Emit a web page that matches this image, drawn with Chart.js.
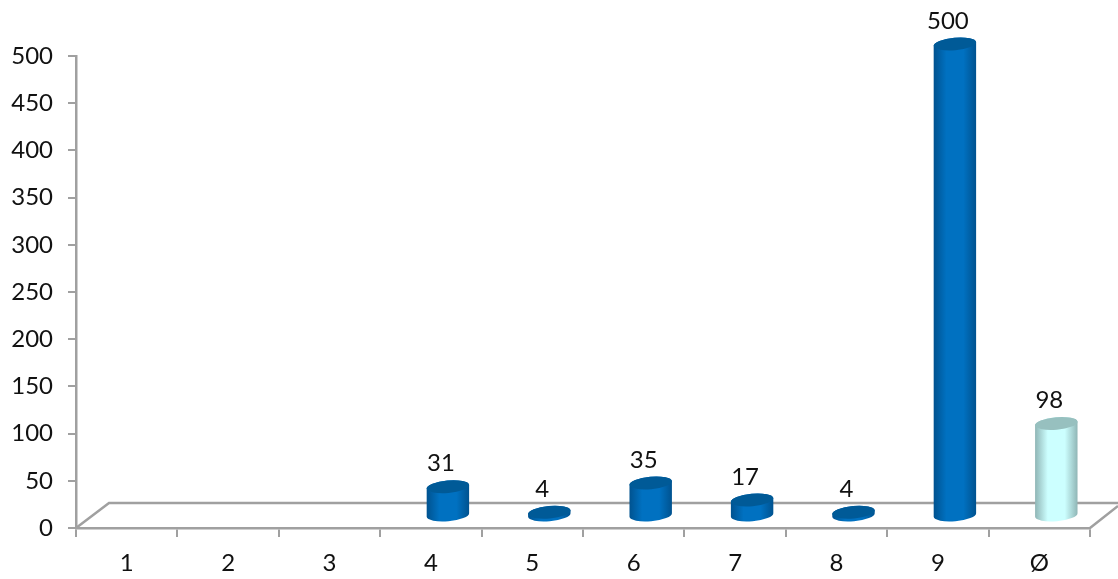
<!DOCTYPE html>
<html>
<head>
<meta charset="utf-8">
<style>
  html, body { margin: 0; padding: 0; background: #fff; }
  canvas { display: block; }
</style>
<script src="https://cdn.jsdelivr.net/npm/chart.js@4"></script>
</head>
<body>
<canvas id="chart" width="1118" height="579"></canvas>
<script>
const categories = ['1', '2', '3', '4', '5', '6', '7', '8', '9', 'Ø'];
const values = [null, null, null, 31, 4, 35, 17, 4, 500, 98];
const yMax = 500;
const yStep = 50;

const FONT = 'Lato, "Open Sans", sans-serif';
const AXIS = '#a0a0a0';
const BLUE = { edge: '#00528f', mid: '#0071c1', top: '#005a97' };
const PALE = { edge: '#8fb5b5', mid: '#ccffff', top: '#97c0bf' };

// fake 3D: the floor sits behind the axes, bars stand on it
const DEPTH_X = 17;
const DEPTH_Y = -12;
const TILT = -5 * Math.PI / 180;
const CAP_RY = 6.2;

const cylinders = {
  id: 'cylinders',
  beforeDatasetDraw(chart) {
    const { ctx, chartArea: a } = chart;

    // floor outline
    ctx.save();
    ctx.strokeStyle = AXIS;
    ctx.lineWidth = 2.5;
    ctx.beginPath();
    ctx.moveTo(a.left, a.bottom);
    ctx.lineTo(a.left + 33, a.bottom - 25);
    ctx.lineTo(a.right + 28, a.bottom - 25);
    ctx.moveTo(a.right, a.bottom);
    ctx.lineTo(a.right + 28, a.bottom - 22);
    ctx.stroke();
    ctx.restore();

    chart.getDatasetMeta(0).data.forEach((bar, i) => {
      if (values[i] === null) return;
      const c = categories[i] === 'Ø' ? PALE : BLUE;
      const cx = bar.x + DEPTH_X;
      const top = bar.y + DEPTH_Y;
      const base = bar.base + DEPTH_Y;
      const rx = bar.width / 2;

      const grad = ctx.createLinearGradient(cx - rx, 0, cx + rx, 0);
      grad.addColorStop(0, c.edge);
      grad.addColorStop(0.3, c.mid);
      grad.addColorStop(0.7, c.mid);
      grad.addColorStop(1, c.edge);

      ctx.save();
      // body: bottom half of the base ellipse joined to the top ellipse
      ctx.fillStyle = grad;
      ctx.beginPath();
      ctx.ellipse(cx, base, rx, CAP_RY, TILT, 0, Math.PI);
      ctx.ellipse(cx, top, rx, CAP_RY, TILT, Math.PI, 0);
      ctx.closePath();
      ctx.fill();

      ctx.fillStyle = c.top;
      ctx.beginPath();
      ctx.ellipse(cx, top, rx, CAP_RY, TILT, 0, Math.PI * 2);
      ctx.fill();

      // labels sit a little left of the bar, as if on the front plane
      ctx.fillStyle = '#111';
      ctx.font = '24px ' + FONT;
      ctx.textAlign = 'center';
      ctx.textBaseline = 'middle';
      ctx.fillText(String(values[i]), cx - 7, top - 23);
      ctx.restore();
    });
    return false;
  }
};

new Chart(document.getElementById('chart'), {
  type: 'bar',
  data: {
    labels: categories,
    datasets: [{
      data: values,
      backgroundColor: BLUE.mid,
      barPercentage: 0.42,
      categoryPercentage: 1
    }]
  },
  plugins: [cylinders],
  options: {
    responsive: false,
    animation: false,
    layout: { padding: { top: 56, right: 28, left: 0, bottom: 0 } },
    plugins: { legend: { display: false }, tooltip: { enabled: false } },
    scales: {
      x: {
        afterFit(scale) { scale.height = 51; },
        border: { color: AXIS, width: 2.5 },
        grid: { drawOnChartArea: false, color: AXIS, lineWidth: 2, tickLength: 9 },
        ticks: { color: '#111', font: { family: FONT, size: 24 }, padding: 12, maxRotation: 0 }
      },
      y: {
        min: 0,
        max: yMax,
        afterFit(scale) { scale.width = 76; },
        border: { color: AXIS, width: 2.5 },
        grid: { drawOnChartArea: false, color: AXIS, lineWidth: 2, tickLength: 8 },
        ticks: { stepSize: yStep, color: '#111', font: { family: FONT, size: 24 }, padding: 15 }
      }
    }
  }
});
</script>
</body>
</html>
